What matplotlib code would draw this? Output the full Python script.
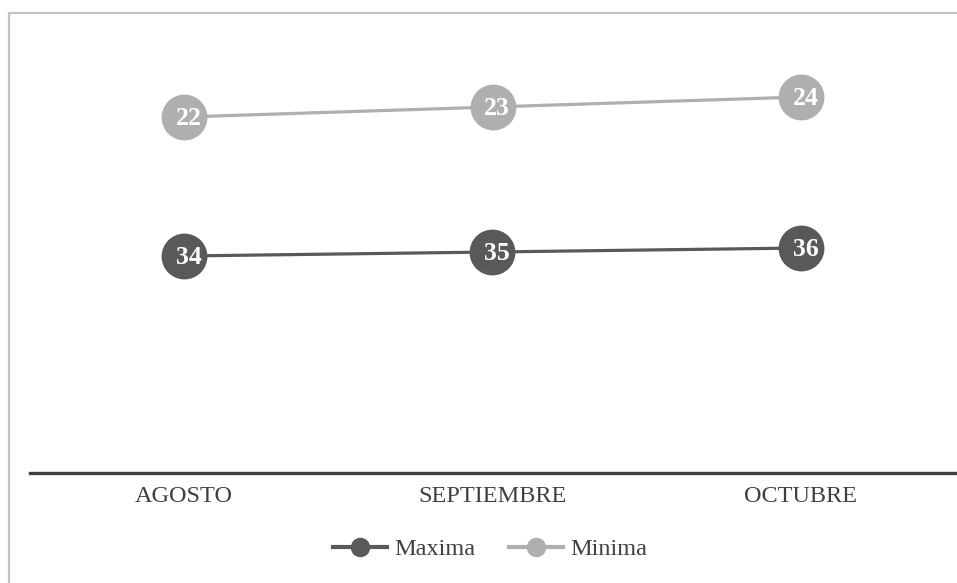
import matplotlib.pyplot as plt
from matplotlib.patches import Rectangle
from matplotlib.lines import Line2D

# --- DATA ---
meses = ["AGOSTO", "SEPTIEMBRE", "OCTUBRE"]
maxima = [34, 35, 36]
minima = [22, 23, 24]

DARK = "#595959"
LIGHT = "#afafaf"
TEXT = "#404040"

plt.rcParams["font.family"] = ["Liberation Serif", "DejaVu Serif"]

W, H = 957, 583
fig = plt.figure(figsize=(W / 100, H / 100), dpi=100)

# chart border (light grey frame, open at the bottom/right edge of the image)
fig.patches.append(
    Rectangle((9 / W, -0.05), 1.2, (H - 13) / H + 0.05, transform=fig.transFigure,
              fill=False, edgecolor="#c4c4c4", linewidth=1.6)
)

# plot area
left, right, bottom, top = 30 / W, 955 / W, (H - 473) / H, (H - 30) / H
ax = fig.add_axes([left, bottom, right - left, top - bottom])
ax2 = ax.twinx()

x = list(range(len(meses)))

# each series sits on its own (hidden) value axis
ax.set_ylim(-20.25, 90.5)
ax2.set_ylim(-13.6, 30.7)

ax.plot(x, maxima, color=DARK, linewidth=2.3, marker="o", markersize=33,
        markeredgewidth=0, zorder=3)
ax2.plot(x, minima, color=LIGHT, linewidth=2.3, marker="o", markersize=33,
         markeredgewidth=0, zorder=3)

for xi, v in zip(x, maxima):
    ax.text(xi + 0.015, v - 0.3, str(v), color="white", fontsize=18.5, fontweight="bold",
            ha="center", va="center", zorder=4)
for xi, v in zip(x, minima):
    ax2.text(xi + 0.015, v - 0.12, str(v), color="white", fontsize=18.5, fontweight="bold",
             ha="center", va="center", zorder=4)

for a in (ax, ax2):
    a.set_xlim(-0.5, 2.5)
    a.set_yticks([])
    for s in ("top", "left", "right"):
        a.spines[s].set_visible(False)
    a.patch.set_visible(False)

ax2.spines["bottom"].set_visible(False)
ax.spines["bottom"].set_color(TEXT)
ax.spines["bottom"].set_linewidth(2.4)

ax.set_xticks(x)
ax.set_xticklabels(meses, fontsize=17.5, color=TEXT)
ax.tick_params(axis="x", length=0, pad=9)

# legend
handles = [
    Line2D([], [], color=DARK, linewidth=3, marker="o", markersize=13),
    Line2D([], [], color=LIGHT, linewidth=3, marker="o", markersize=13),
]
fig.legend(handles, ["Maxima", "Minima"], loc="center", ncol=2,
           bbox_to_anchor=(490 / W, (H - 549) / H), frameon=False,
           fontsize=17.5, labelcolor=TEXT, handlelength=2.2,
           handletextpad=0.3, columnspacing=1.4)

fig.savefig("out.png", dpi=100)
